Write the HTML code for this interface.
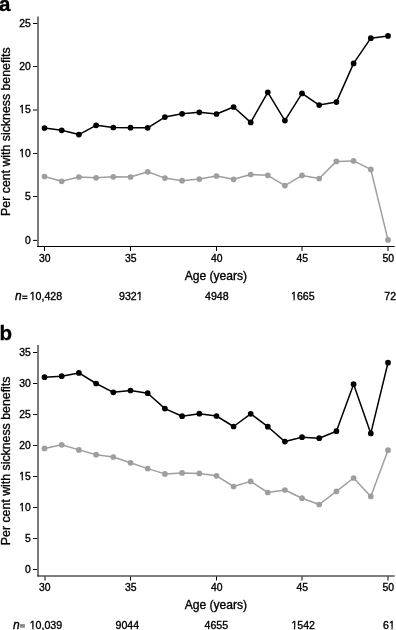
<!DOCTYPE html>
<html><head><meta charset="utf-8"><style>
html,body{margin:0;padding:0;background:#fff;}
svg{display:block;will-change:transform;}
text{stroke:#000;stroke-width:0.35px;}
</style></head><body>
<svg width="396" height="630" viewBox="0 0 396 630" font-family='"Liberation Sans", sans-serif' fill="#000">
<text x="-1.1" y="10.7" font-size="20.5" font-weight="bold" style="stroke-width:0.35px">a</text>
<rect x="37" y="16.5" width="2" height="230.5" fill="#7a7a7a"/>
<line x1="33" y1="240.4" x2="37.2" y2="240.4" stroke="#000" stroke-width="1"/>
<text x="30.90" y="243.65" font-size="10.4" text-anchor="end">0</text>
<line x1="33" y1="196.5" x2="37.2" y2="196.5" stroke="#000" stroke-width="1"/>
<text x="30.90" y="199.75" font-size="10.4" text-anchor="end">5</text>
<line x1="33" y1="153.5" x2="37.2" y2="153.5" stroke="#000" stroke-width="1"/>
<text x="30.90" y="156.75" font-size="10.4" text-anchor="end">10</text><rect x="19.23" y="155.56" width="2.50" height="2.19" fill="#fff"/><rect x="23.07" y="155.56" width="2.65" height="2.19" fill="#fff"/>
<line x1="33" y1="110.0" x2="37.2" y2="110.0" stroke="#000" stroke-width="1"/>
<text x="30.90" y="113.25" font-size="10.4" text-anchor="end">15</text><rect x="19.23" y="112.06" width="2.50" height="2.19" fill="#fff"/><rect x="23.07" y="112.06" width="2.65" height="2.19" fill="#fff"/>
<line x1="33" y1="66.5" x2="37.2" y2="66.5" stroke="#000" stroke-width="1"/>
<text x="30.90" y="69.75" font-size="10.4" text-anchor="end">20</text>
<line x1="33" y1="23.5" x2="37.2" y2="23.5" stroke="#000" stroke-width="1"/>
<text x="30.90" y="26.75" font-size="10.4" text-anchor="end">25</text>
<line x1="37" y1="246.5" x2="394.7" y2="246.5" stroke="#000" stroke-width="1"/>
<line x1="44.5" y1="247" x2="44.5" y2="251" stroke="#000" stroke-width="1"/>
<text x="44.70" y="262.00" font-size="10.4" text-anchor="middle">30</text>
<line x1="130.5" y1="247" x2="130.5" y2="251" stroke="#000" stroke-width="1"/>
<text x="130.70" y="262.00" font-size="10.4" text-anchor="middle">35</text>
<line x1="216.5" y1="247" x2="216.5" y2="251" stroke="#000" stroke-width="1"/>
<text x="216.70" y="262.00" font-size="10.4" text-anchor="middle">40</text>
<line x1="302.0" y1="247" x2="302.0" y2="251" stroke="#000" stroke-width="1"/>
<text x="302.20" y="262.00" font-size="10.4" text-anchor="middle">45</text>
<line x1="388.0" y1="247" x2="388.0" y2="251" stroke="#000" stroke-width="1"/>
<text x="388.20" y="262.00" font-size="10.4" text-anchor="middle">50</text>
<text x="215.9" y="280.2" font-size="12.1" text-anchor="middle">Age (years)</text>
<text transform="translate(10,131.6) rotate(-90)" font-size="12.33" text-anchor="middle">Per cent with sickness benefits</text>
<text x="14.9" y="299.8" font-size="12" font-style="italic">n</text>
<rect x="22.2" y="295.6" width="5.2" height="1.2" fill="#000"/><rect x="22.2" y="297.9" width="5.2" height="1.2" fill="#000"/>
<text x="29.70" y="299.80" font-size="10.6">10,428</text><rect x="29.60" y="298.59" width="2.55" height="2.21" fill="#fff"/><rect x="33.50" y="298.59" width="2.69" height="2.21" fill="#fff"/>
<text x="130.80" y="299.80" font-size="10.6" text-anchor="middle">9321</text><rect x="136.60" y="298.59" width="2.55" height="2.21" fill="#fff"/><rect x="140.50" y="298.59" width="2.69" height="2.21" fill="#fff"/>
<text x="216.80" y="299.80" font-size="10.6" text-anchor="middle">4948</text>
<text x="302.80" y="299.80" font-size="10.6" text-anchor="middle">1665</text><rect x="290.91" y="298.59" width="2.55" height="2.21" fill="#fff"/><rect x="294.81" y="298.59" width="2.69" height="2.21" fill="#fff"/>
<text x="384.30" y="299.80" font-size="10.6">72</text>
<polyline points="44.50,176.50 61.70,181.30 78.90,177.00 96.10,177.80 113.30,176.80 130.50,177.00 147.70,171.80 164.90,178.10 182.10,180.70 199.30,179.10 216.50,176.00 233.60,179.30 250.70,174.50 267.80,175.30 284.90,185.60 302.00,175.40 319.20,178.50 336.40,161.40 353.60,160.90 370.80,169.40 388.00,239.90" fill="none" stroke="#9e9e9e" stroke-width="1.5" stroke-linejoin="round"/>
<circle cx="44.50" cy="176.50" r="2.85" fill="#9e9e9e"/><circle cx="61.70" cy="181.30" r="2.85" fill="#9e9e9e"/><circle cx="78.90" cy="177.00" r="2.85" fill="#9e9e9e"/><circle cx="96.10" cy="177.80" r="2.85" fill="#9e9e9e"/><circle cx="113.30" cy="176.80" r="2.85" fill="#9e9e9e"/><circle cx="130.50" cy="177.00" r="2.85" fill="#9e9e9e"/><circle cx="147.70" cy="171.80" r="2.85" fill="#9e9e9e"/><circle cx="164.90" cy="178.10" r="2.85" fill="#9e9e9e"/><circle cx="182.10" cy="180.70" r="2.85" fill="#9e9e9e"/><circle cx="199.30" cy="179.10" r="2.85" fill="#9e9e9e"/><circle cx="216.50" cy="176.00" r="2.85" fill="#9e9e9e"/><circle cx="233.60" cy="179.30" r="2.85" fill="#9e9e9e"/><circle cx="250.70" cy="174.50" r="2.85" fill="#9e9e9e"/><circle cx="267.80" cy="175.30" r="2.85" fill="#9e9e9e"/><circle cx="284.90" cy="185.60" r="2.85" fill="#9e9e9e"/><circle cx="302.00" cy="175.40" r="2.85" fill="#9e9e9e"/><circle cx="319.20" cy="178.50" r="2.85" fill="#9e9e9e"/><circle cx="336.40" cy="161.40" r="2.85" fill="#9e9e9e"/><circle cx="353.60" cy="160.90" r="2.85" fill="#9e9e9e"/><circle cx="370.80" cy="169.40" r="2.85" fill="#9e9e9e"/><circle cx="388.00" cy="239.90" r="2.85" fill="#9e9e9e"/>
<polyline points="44.50,128.00 61.70,130.30 78.90,134.60 96.10,125.30 113.30,127.50 130.50,127.70 147.70,127.80 164.90,117.10 182.10,113.80 199.30,112.30 216.50,114.00 233.60,107.00 250.70,122.40 267.80,92.30 284.90,120.60 302.00,93.40 319.20,105.10 336.40,102.10 353.60,63.40 370.80,38.20 388.00,35.90" fill="none" stroke="#000" stroke-width="1.5" stroke-linejoin="round"/>
<circle cx="44.50" cy="128.00" r="2.85" fill="#000"/><circle cx="61.70" cy="130.30" r="2.85" fill="#000"/><circle cx="78.90" cy="134.60" r="2.85" fill="#000"/><circle cx="96.10" cy="125.30" r="2.85" fill="#000"/><circle cx="113.30" cy="127.50" r="2.85" fill="#000"/><circle cx="130.50" cy="127.70" r="2.85" fill="#000"/><circle cx="147.70" cy="127.80" r="2.85" fill="#000"/><circle cx="164.90" cy="117.10" r="2.85" fill="#000"/><circle cx="182.10" cy="113.80" r="2.85" fill="#000"/><circle cx="199.30" cy="112.30" r="2.85" fill="#000"/><circle cx="216.50" cy="114.00" r="2.85" fill="#000"/><circle cx="233.60" cy="107.00" r="2.85" fill="#000"/><circle cx="250.70" cy="122.40" r="2.85" fill="#000"/><circle cx="267.80" cy="92.30" r="2.85" fill="#000"/><circle cx="284.90" cy="120.60" r="2.85" fill="#000"/><circle cx="302.00" cy="93.40" r="2.85" fill="#000"/><circle cx="319.20" cy="105.10" r="2.85" fill="#000"/><circle cx="336.40" cy="102.10" r="2.85" fill="#000"/><circle cx="353.60" cy="63.40" r="2.85" fill="#000"/><circle cx="370.80" cy="38.20" r="2.85" fill="#000"/><circle cx="388.00" cy="35.90" r="2.85" fill="#000"/>
<text x="-0.6" y="340.1" font-size="20.5" font-weight="bold" style="stroke-width:0.35px">b</text>
<rect x="37" y="345" width="2" height="231.5" fill="#7a7a7a"/>
<line x1="33" y1="569.5" x2="37.2" y2="569.5" stroke="#000" stroke-width="1"/>
<text x="30.90" y="572.75" font-size="10.4" text-anchor="end">0</text>
<line x1="33" y1="538.5" x2="37.2" y2="538.5" stroke="#000" stroke-width="1"/>
<text x="30.90" y="541.75" font-size="10.4" text-anchor="end">5</text>
<line x1="33" y1="507.5" x2="37.2" y2="507.5" stroke="#000" stroke-width="1"/>
<text x="30.90" y="510.75" font-size="10.4" text-anchor="end">10</text><rect x="19.23" y="509.56" width="2.50" height="2.19" fill="#fff"/><rect x="23.07" y="509.56" width="2.65" height="2.19" fill="#fff"/>
<line x1="33" y1="476.5" x2="37.2" y2="476.5" stroke="#000" stroke-width="1"/>
<text x="30.90" y="479.75" font-size="10.4" text-anchor="end">15</text><rect x="19.23" y="478.56" width="2.50" height="2.19" fill="#fff"/><rect x="23.07" y="478.56" width="2.65" height="2.19" fill="#fff"/>
<line x1="33" y1="445.5" x2="37.2" y2="445.5" stroke="#000" stroke-width="1"/>
<text x="30.90" y="448.75" font-size="10.4" text-anchor="end">20</text>
<line x1="33" y1="414.5" x2="37.2" y2="414.5" stroke="#000" stroke-width="1"/>
<text x="30.90" y="417.75" font-size="10.4" text-anchor="end">25</text>
<line x1="33" y1="383.5" x2="37.2" y2="383.5" stroke="#000" stroke-width="1"/>
<text x="30.90" y="386.75" font-size="10.4" text-anchor="end">30</text>
<line x1="33" y1="352.5" x2="37.2" y2="352.5" stroke="#000" stroke-width="1"/>
<text x="30.90" y="355.75" font-size="10.4" text-anchor="end">35</text>
<line x1="37.5" y1="576.0" x2="394.7" y2="576.0" stroke="#000" stroke-width="1"/>
<line x1="45.0" y1="576.5" x2="45.0" y2="580.5" stroke="#000" stroke-width="1"/>
<text x="44.70" y="590.70" font-size="10.4" text-anchor="middle">30</text>
<line x1="130.5" y1="576.5" x2="130.5" y2="580.5" stroke="#000" stroke-width="1"/>
<text x="130.70" y="590.70" font-size="10.4" text-anchor="middle">35</text>
<line x1="216.5" y1="576.5" x2="216.5" y2="580.5" stroke="#000" stroke-width="1"/>
<text x="216.70" y="590.70" font-size="10.4" text-anchor="middle">40</text>
<line x1="302.0" y1="576.5" x2="302.0" y2="580.5" stroke="#000" stroke-width="1"/>
<text x="302.20" y="590.70" font-size="10.4" text-anchor="middle">45</text>
<line x1="388.0" y1="576.5" x2="388.0" y2="580.5" stroke="#000" stroke-width="1"/>
<text x="388.20" y="590.70" font-size="10.4" text-anchor="middle">50</text>
<text x="215.9" y="609.1" font-size="12.1" text-anchor="middle">Age (years)</text>
<text transform="translate(10,460.9) rotate(-90)" font-size="12.33" text-anchor="middle">Per cent with sickness benefits</text>
<text x="13.1" y="628.6" font-size="12" font-style="italic">n</text>
<rect x="19.8" y="624.1" width="5.1" height="3.6" fill="#8a8a8a"/>
<text x="29.70" y="628.60" font-size="10.6">10,039</text><rect x="29.60" y="627.39" width="2.55" height="2.21" fill="#fff"/><rect x="33.50" y="627.39" width="2.69" height="2.21" fill="#fff"/>
<text x="127.30" y="628.60" font-size="10.6" text-anchor="middle">9044</text>
<text x="216.30" y="628.60" font-size="10.6" text-anchor="middle">4655</text>
<text x="303.20" y="628.60" font-size="10.6" text-anchor="middle">1542</text><rect x="291.31" y="627.39" width="2.55" height="2.21" fill="#fff"/><rect x="295.21" y="627.39" width="2.69" height="2.21" fill="#fff"/>
<text x="383.00" y="628.60" font-size="10.6">61</text><rect x="388.80" y="627.39" width="2.55" height="2.21" fill="#fff"/><rect x="392.70" y="627.39" width="2.69" height="2.21" fill="#fff"/>
<polyline points="44.50,448.40 61.70,444.80 78.90,449.90 96.10,454.70 113.30,457.00 130.50,462.80 147.70,468.60 164.90,473.90 182.10,472.90 199.30,473.40 216.50,475.80 233.60,486.50 250.70,481.40 267.80,492.50 284.90,490.00 302.00,498.20 319.20,504.50 336.40,491.40 353.60,478.00 370.80,496.40 388.00,450.20" fill="none" stroke="#9e9e9e" stroke-width="1.5" stroke-linejoin="round"/>
<circle cx="44.50" cy="448.40" r="2.85" fill="#9e9e9e"/><circle cx="61.70" cy="444.80" r="2.85" fill="#9e9e9e"/><circle cx="78.90" cy="449.90" r="2.85" fill="#9e9e9e"/><circle cx="96.10" cy="454.70" r="2.85" fill="#9e9e9e"/><circle cx="113.30" cy="457.00" r="2.85" fill="#9e9e9e"/><circle cx="130.50" cy="462.80" r="2.85" fill="#9e9e9e"/><circle cx="147.70" cy="468.60" r="2.85" fill="#9e9e9e"/><circle cx="164.90" cy="473.90" r="2.85" fill="#9e9e9e"/><circle cx="182.10" cy="472.90" r="2.85" fill="#9e9e9e"/><circle cx="199.30" cy="473.40" r="2.85" fill="#9e9e9e"/><circle cx="216.50" cy="475.80" r="2.85" fill="#9e9e9e"/><circle cx="233.60" cy="486.50" r="2.85" fill="#9e9e9e"/><circle cx="250.70" cy="481.40" r="2.85" fill="#9e9e9e"/><circle cx="267.80" cy="492.50" r="2.85" fill="#9e9e9e"/><circle cx="284.90" cy="490.00" r="2.85" fill="#9e9e9e"/><circle cx="302.00" cy="498.20" r="2.85" fill="#9e9e9e"/><circle cx="319.20" cy="504.50" r="2.85" fill="#9e9e9e"/><circle cx="336.40" cy="491.40" r="2.85" fill="#9e9e9e"/><circle cx="353.60" cy="478.00" r="2.85" fill="#9e9e9e"/><circle cx="370.80" cy="496.40" r="2.85" fill="#9e9e9e"/><circle cx="388.00" cy="450.20" r="2.85" fill="#9e9e9e"/>
<polyline points="44.50,377.20 61.70,376.20 78.90,372.90 96.10,383.50 113.30,392.30 130.50,390.50 147.70,393.20 164.90,408.60 182.10,416.20 199.30,413.70 216.50,416.00 233.60,426.50 250.70,413.80 267.80,426.70 284.90,441.60 302.00,437.20 319.20,438.20 336.40,431.20 353.60,384.20 370.80,433.40 388.00,362.70" fill="none" stroke="#000" stroke-width="1.5" stroke-linejoin="round"/>
<circle cx="44.50" cy="377.20" r="2.85" fill="#000"/><circle cx="61.70" cy="376.20" r="2.85" fill="#000"/><circle cx="78.90" cy="372.90" r="2.85" fill="#000"/><circle cx="96.10" cy="383.50" r="2.85" fill="#000"/><circle cx="113.30" cy="392.30" r="2.85" fill="#000"/><circle cx="130.50" cy="390.50" r="2.85" fill="#000"/><circle cx="147.70" cy="393.20" r="2.85" fill="#000"/><circle cx="164.90" cy="408.60" r="2.85" fill="#000"/><circle cx="182.10" cy="416.20" r="2.85" fill="#000"/><circle cx="199.30" cy="413.70" r="2.85" fill="#000"/><circle cx="216.50" cy="416.00" r="2.85" fill="#000"/><circle cx="233.60" cy="426.50" r="2.85" fill="#000"/><circle cx="250.70" cy="413.80" r="2.85" fill="#000"/><circle cx="267.80" cy="426.70" r="2.85" fill="#000"/><circle cx="284.90" cy="441.60" r="2.85" fill="#000"/><circle cx="302.00" cy="437.20" r="2.85" fill="#000"/><circle cx="319.20" cy="438.20" r="2.85" fill="#000"/><circle cx="336.40" cy="431.20" r="2.85" fill="#000"/><circle cx="353.60" cy="384.20" r="2.85" fill="#000"/><circle cx="370.80" cy="433.40" r="2.85" fill="#000"/><circle cx="388.00" cy="362.70" r="2.85" fill="#000"/>
</svg>
</body></html>
